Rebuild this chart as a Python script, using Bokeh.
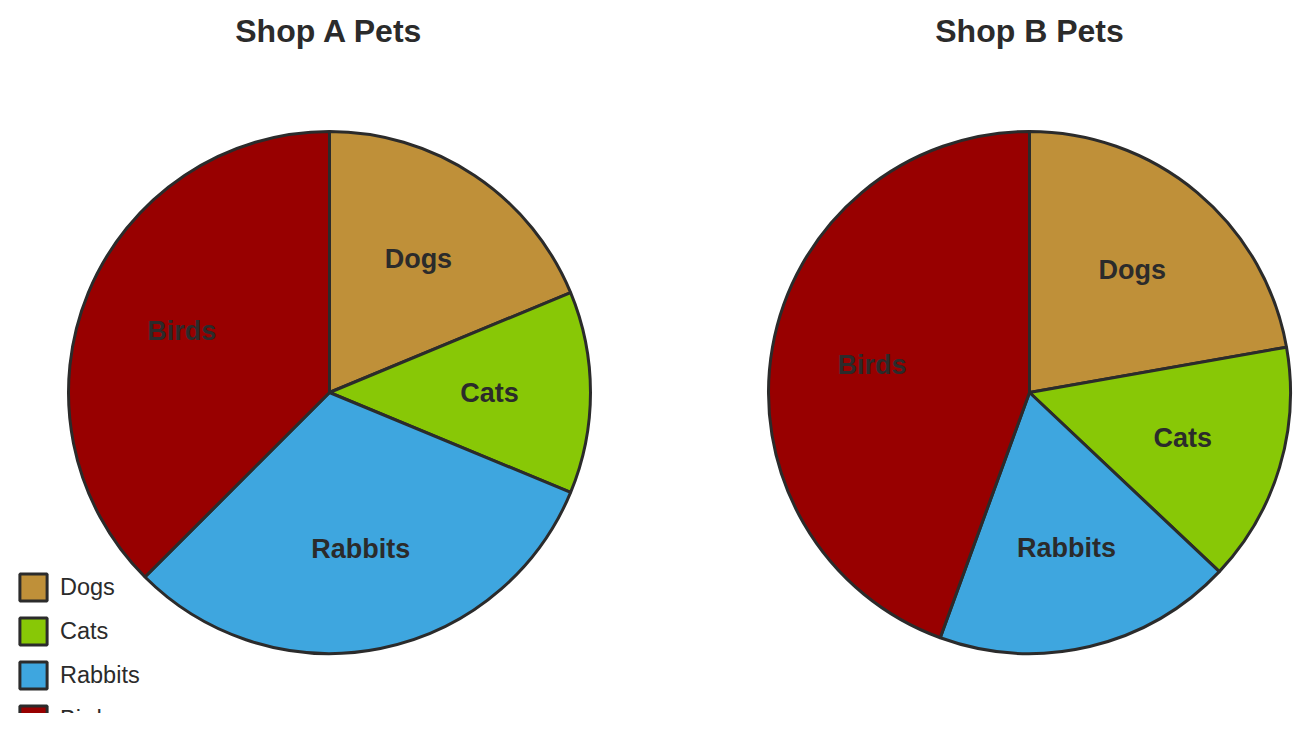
import math
from bokeh.plotting import figure
from bokeh.models import Range1d, Legend, LegendItem, ColumnDataSource
from bokeh.core.properties import value
from bokeh.embed import file_html
from bokeh.resources import INLINE

categories = ["Dogs", "Cats", "Rabbits", "Birds"]
shop_a = [15, 10, 25, 30]
shop_b = [12, 8, 10, 24]
titles = ["Shop A Pets", "Shop B Pets"]
colors = ["#bf9039", "#88c806", "#3ea6df", "#980000"]

W, H = 1310, 713
EDGE = "#2b2b2b"
TXT = "#2b2b2b"
FONT = "Liberation Sans"

p = figure(width=W, height=H, output_backend="svg", toolbar_location=None,
           x_range=Range1d(0, W), y_range=Range1d(0, H), min_border=0)
p.axis.visible = False
p.grid.visible = False
p.outline_line_color = None
p.background_fill_color = "white"

R = 261
centers = [(329, 321), (1029, 321)]
renderers = []
for (cx, cy), vals, title in zip(centers, [shop_a, shop_b], titles):
    total = sum(vals)
    starts, ends, lx, ly = [], [], [], []
    acc = 0.0
    for v in vals:
        f0 = acc / total
        acc += v
        f1 = acc / total
        starts.append(math.pi / 2 - f0 * 2 * math.pi)
        ends.append(math.pi / 2 - f1 * 2 * math.pi)
        mid = math.pi / 2 - (f0 + f1) / 2 * 2 * math.pi
        lx.append(cx + 0.613 * R * math.cos(mid))
        ly.append(cy + 0.613 * R * math.sin(mid))
    src = ColumnDataSource(dict(x=[cx] * 4, y=[cy] * 4, start=starts, end=ends,
                                color=colors, cat=categories, lx=lx, ly=ly))
    r = p.wedge(x="x", y="y", radius=R, start_angle="start", end_angle="end",
                direction="clock", fill_color="color", line_color=EDGE,
                line_width=3, source=src)
    renderers.append(r)
    p.text(x="lx", y="ly", text="cat", source=src, text_align="center",
           text_baseline="middle", text_font=value(FONT), text_font_style="bold",
           text_font_size="27px", text_color=TXT)
    p.text(x=[cx], y=[683], text=[title], text_align="center",
           text_baseline="middle", text_font=value(FONT), text_font_style="bold",
           text_font_size="32px", text_color=TXT)

items = [LegendItem(label=c, renderers=[renderers[0]], index=i)
         for i, c in enumerate(categories)]
legend = Legend(items=items, location=(16, -23), orientation="vertical",
                glyph_width=34, glyph_height=34, spacing=10, label_standoff=10,
                padding=0, margin=0, border_line_color=None,
                background_fill_alpha=0, label_text_font=FONT,
                label_text_font_size="23.5px", label_text_color=TXT,
                label_height=34)
p.add_layout(legend, "center")

open("out.html", "w").write(file_html(p, INLINE))
